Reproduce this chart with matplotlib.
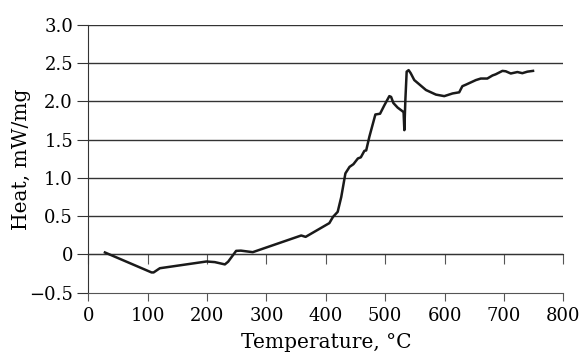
import matplotlib
matplotlib.use("Agg")
import matplotlib.pyplot as plt

temperature = [28, 106.5, 110, 120.5, 199, 213, 230, 235.5, 249, 257, 277, 358.6, 366, 406,
               412, 420, 426, 433, 440, 446.5, 454, 459, 465, 468, 473.4, 483.5, 491.4, 498.6,
               507, 510, 513.8, 521, 528.4, 531, 532.3, 534, 536.2, 539.5, 543, 549, 568.7,
               585.5, 599.5, 613.5, 624.7, 630, 636, 652.8, 661, 672, 680.7, 686, 697.5, 703,
               711.5, 722.7, 731, 739.5, 749]
heat = [0.026, -0.235, -0.235, -0.18, -0.092, -0.10, -0.13, -0.095, 0.047, 0.05, 0.03, 0.248,
        0.23, 0.41, 0.49, 0.557, 0.75, 1.06, 1.145, 1.18, 1.255, 1.27, 1.355, 1.36, 1.54, 1.83,
        1.84, 1.95, 2.07, 2.06, 1.98, 1.92, 1.877, 1.86, 1.625, 2.02, 2.39, 2.41, 2.37, 2.28,
        2.15, 2.09, 2.07, 2.105, 2.12, 2.2, 2.22, 2.28, 2.3, 2.3, 2.34, 2.355, 2.4, 2.395,
        2.366, 2.385, 2.37, 2.39, 2.40]
x_ticks = [0, 100, 200, 300, 400, 500, 600, 700, 800]
y_ticks = [-0.5, 0, 0.5, 1.0, 1.5, 2.0, 2.5, 3.0]
y_tick_labels = ["\u22120.5", "0", "0.5", "1.0", "1.5", "2.0", "2.5", "3.0"]

plt.rcParams['font.family'] = ['DejaVu Serif']
plt.rcParams['font.size'] = 13

fig = plt.figure(figsize=(5.84, 3.58), dpi=100)
ax = fig.add_axes([88.3 / 584, 1 - 292.7 / 358, (563.3 - 88.3) / 584, (292.7 - 25) / 358])

ax.set_xlim(0, 800)
ax.set_ylim(-0.5, 3.0)
ax.set_xticks(x_ticks)
ax.set_yticks(y_ticks)
ax.set_yticklabels(y_tick_labels)

for y in y_ticks[1:]:
    ax.axhline(y, color='#333333', lw=1.0, zorder=1)

ax.plot(temperature, heat, color='#1a1a1a', lw=1.8, zorder=3)

for s in ['top', 'right']:
    ax.spines[s].set_visible(False)
ax.spines['left'].set_color('#333333')
ax.spines['bottom'].set_color('#555555')
ax.tick_params(axis='x', direction='out', length=6, color='#555555', pad=4)
ax.tick_params(axis='y', direction='out', length=8, color='#333333', pad=3)

sec = ax.secondary_xaxis(0.5 / 3.5)
sec.set_xticks(x_ticks)
sec.set_xticklabels([])
sec.tick_params(direction='out', length=7, color='#555555')
sec.spines['bottom'].set_color('#333333')

ax.set_xlabel("Temperature, \u00b0C", fontsize=14.5)
ax.xaxis.set_label_coords(0.5, -(343 - 292.7) / (292.7 - 25), transform=ax.transAxes)
ax.xaxis.label.set_va('center')
ax.set_ylabel("Heat, mW/mg", fontsize=14.5)
ax.yaxis.set_label_coords(-(88.3 - 22) / (563.3 - 88.3), 0.5, transform=ax.transAxes)
ax.yaxis.label.set_va('center')

fig.savefig("out.png", dpi=100)
